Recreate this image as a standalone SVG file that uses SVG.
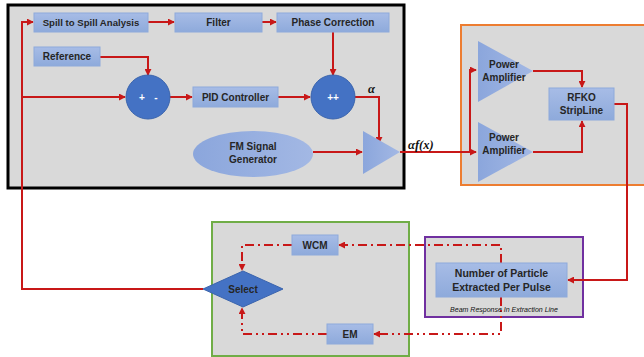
<svg xmlns="http://www.w3.org/2000/svg" width="644" height="357" viewBox="0 0 644 357">
<defs>
<linearGradient id="gb" x1="0" y1="0" x2="0" y2="1"><stop offset="0" stop-color="#a7bce6"/><stop offset="1" stop-color="#8eaadb"/></linearGradient>
<linearGradient id="gt" x1="0" y1="0" x2="1" y2="0"><stop offset="0" stop-color="#8ba6dc"/><stop offset="1" stop-color="#a3b8e4"/></linearGradient>
<marker id="ar" viewBox="0 0 8 8" refX="7" refY="4" markerWidth="7" markerHeight="7" markerUnits="userSpaceOnUse" orient="auto"><path d="M0,0 L8,4 L0,8 z" fill="#c81818"/></marker>
</defs>
<style>
.box{fill:url(#gb);stroke:#8eaadb;stroke-width:1}
.t{font-family:"Liberation Sans",Arial,sans-serif;font-weight:bold;font-size:10px;fill:#262626;text-anchor:middle}
.tw{font-family:"Liberation Sans",Arial,sans-serif;font-weight:bold;font-size:10px;fill:#ffffff;text-anchor:middle}
.m{font-family:"Liberation Serif","Times New Roman",serif;font-style:italic;font-weight:bold;font-size:12.5px;fill:#111}
.w{fill:none;stroke:#c81818;stroke-width:2}
.d1{fill:none;stroke:#c81818;stroke-width:2;stroke-dasharray:9 4 2 4}
.d2{fill:none;stroke:#c81818;stroke-width:2;stroke-dasharray:9 4 2 4 2 4}
.circ{fill:#4472c4;stroke:#3a64ad;stroke-width:1}
.tri{fill:url(#gt)}
</style>
<rect width="644" height="357" fill="#ffffff"/>
<g id="frames">
<rect x="8" y="5" width="396" height="183" fill="#d9d9d9" stroke="#000" stroke-width="3"/>
<rect x="461" y="25" width="190" height="160" fill="#d9d9d9" stroke="#ed7d31" stroke-width="2"/>
<rect x="212" y="222" width="197" height="134" fill="#d9d9d9" stroke="#70ad47" stroke-width="2"/>
<rect x="425" y="237" width="158" height="80" fill="#d9d9d9" stroke="#7030a0" stroke-width="2"/>
</g>
<g id="connectors">
<path class="w" d="M203,289 H22 V22 H33" marker-end="url(#ar)"/>
<path class="w" d="M22,97 H125" marker-end="url(#ar)"/>
<path class="w" d="M148,22 H174" marker-end="url(#ar)"/>
<path class="w" d="M262,22 H276" marker-end="url(#ar)"/>
<path class="w" d="M333,32 V75" marker-end="url(#ar)"/>
<path class="w" d="M100,57 H148 V75" marker-end="url(#ar)"/>
<path class="w" d="M170,97 H192" marker-end="url(#ar)"/>
<path class="w" d="M278,97 H310" marker-end="url(#ar)"/>
<path class="w" d="M355,97 H379 V143" marker-end="url(#ar)"/>
<path class="w" d="M313,152 H362" marker-end="url(#ar)"/>
<path class="w" d="M400,152 H476" marker-end="url(#ar)"/>
<path class="w" d="M470,152 V70 H476" marker-end="url(#ar)"/>
<path class="w" d="M533,71 H582 V87" marker-end="url(#ar)"/>
<path class="w" d="M533,152 H582 V121" marker-end="url(#ar)"/>
<path class="w" d="M614,104 H627 V280 H568" marker-end="url(#ar)"/>
<path class="d1" d="M501,263 V245 H339" marker-end="url(#ar)"/>
<path class="d1" d="M292,245 H242 V270" marker-end="url(#ar)"/>
<path class="d2" d="M501,297 V334 H374" marker-end="url(#ar)"/>
<path class="d2" d="M327,334 H242 V308" marker-end="url(#ar)"/>
</g>
<g id="spill"><rect class="box" x="34" y="13" width="114" height="19"/><text class="t" x="91" y="26" style="font-size:9.6px">Spill to Spill Analysis</text></g>
<g id="filter"><rect class="box" x="175" y="13" width="87" height="19"/><text class="t" x="218.5" y="26">Filter</text></g>
<g id="phase"><rect class="box" x="277" y="13" width="112" height="19"/><text class="t" x="333" y="26">Phase Correction</text></g>
<g id="reference"><rect class="box" x="34" y="47" width="66" height="19"/><text class="t" x="67" y="60">Reference</text></g>
<g id="sum1"><circle class="circ" cx="148" cy="97" r="22"/><text class="tw" x="142" y="101">+</text><text class="tw" x="156" y="101">-</text></g>
<g id="pid"><rect class="box" x="193" y="87" width="85" height="20"/><text class="t" x="235.5" y="100.5">PID Controller</text></g>
<g id="sum2"><circle class="circ" cx="333" cy="97" r="22"/><text class="tw" x="333" y="101">++</text></g>
<g id="alpha"><text class="m" x="368" y="93">α</text></g>
<g id="fm"><ellipse cx="253" cy="154" rx="60" ry="23" fill="url(#gt)"/><text class="t" x="253" y="150">FM Signal</text><text class="t" x="253" y="163">Generator</text></g>
<g id="mixer"><path class="tri" d="M363,131 L400,152 L363,174 z"/></g>
<g id="afx"><text class="m" x="408" y="149">αf(x)</text></g>
<g id="pa1"><path class="tri" d="M478,41 L533,71 L478,102 z"/><text class="t" x="504" y="68">Power</text><text class="t" x="504" y="81">Amplifier</text></g>
<g id="pa2"><path class="tri" d="M478,122 L533,152 L478,182 z"/><text class="t" x="504" y="141">Power</text><text class="t" x="504" y="154">Amplifier</text></g>
<g id="rfko"><rect class="box" x="549" y="88" width="65" height="32"/><text class="t" x="581.5" y="101">RFKO</text><text class="t" x="581.5" y="114">StripLine</text></g>
<g id="number"><rect class="box" x="436" y="263" width="131" height="34"/><text class="t" x="501.5" y="277" style="font-size:10.5px">Number of Particle</text><text class="t" x="501.5" y="291" style="font-size:10.5px">Extracted Per Pulse</text></g>
<g id="caption"><text x="504" y="312" text-anchor="middle" style="font-family:'Liberation Sans',Arial,sans-serif;font-style:italic;font-size:7px;fill:#111">Beam Response In Extraction Line</text></g>
<g id="wcm"><rect class="box" x="292" y="235" width="46" height="20"/><text class="t" x="315" y="248.5">WCM</text></g>
<g id="em"><rect class="box" x="327" y="324" width="46" height="20"/><text class="t" x="350" y="337.5">EM</text></g>
<g id="select"><path d="M203,289 L243,271 L283,289 L243,307 z" fill="#4472c4" stroke="#3a64ad" stroke-width="1"/><text class="t" x="243" y="292.5">Select</text></g>
</svg>
